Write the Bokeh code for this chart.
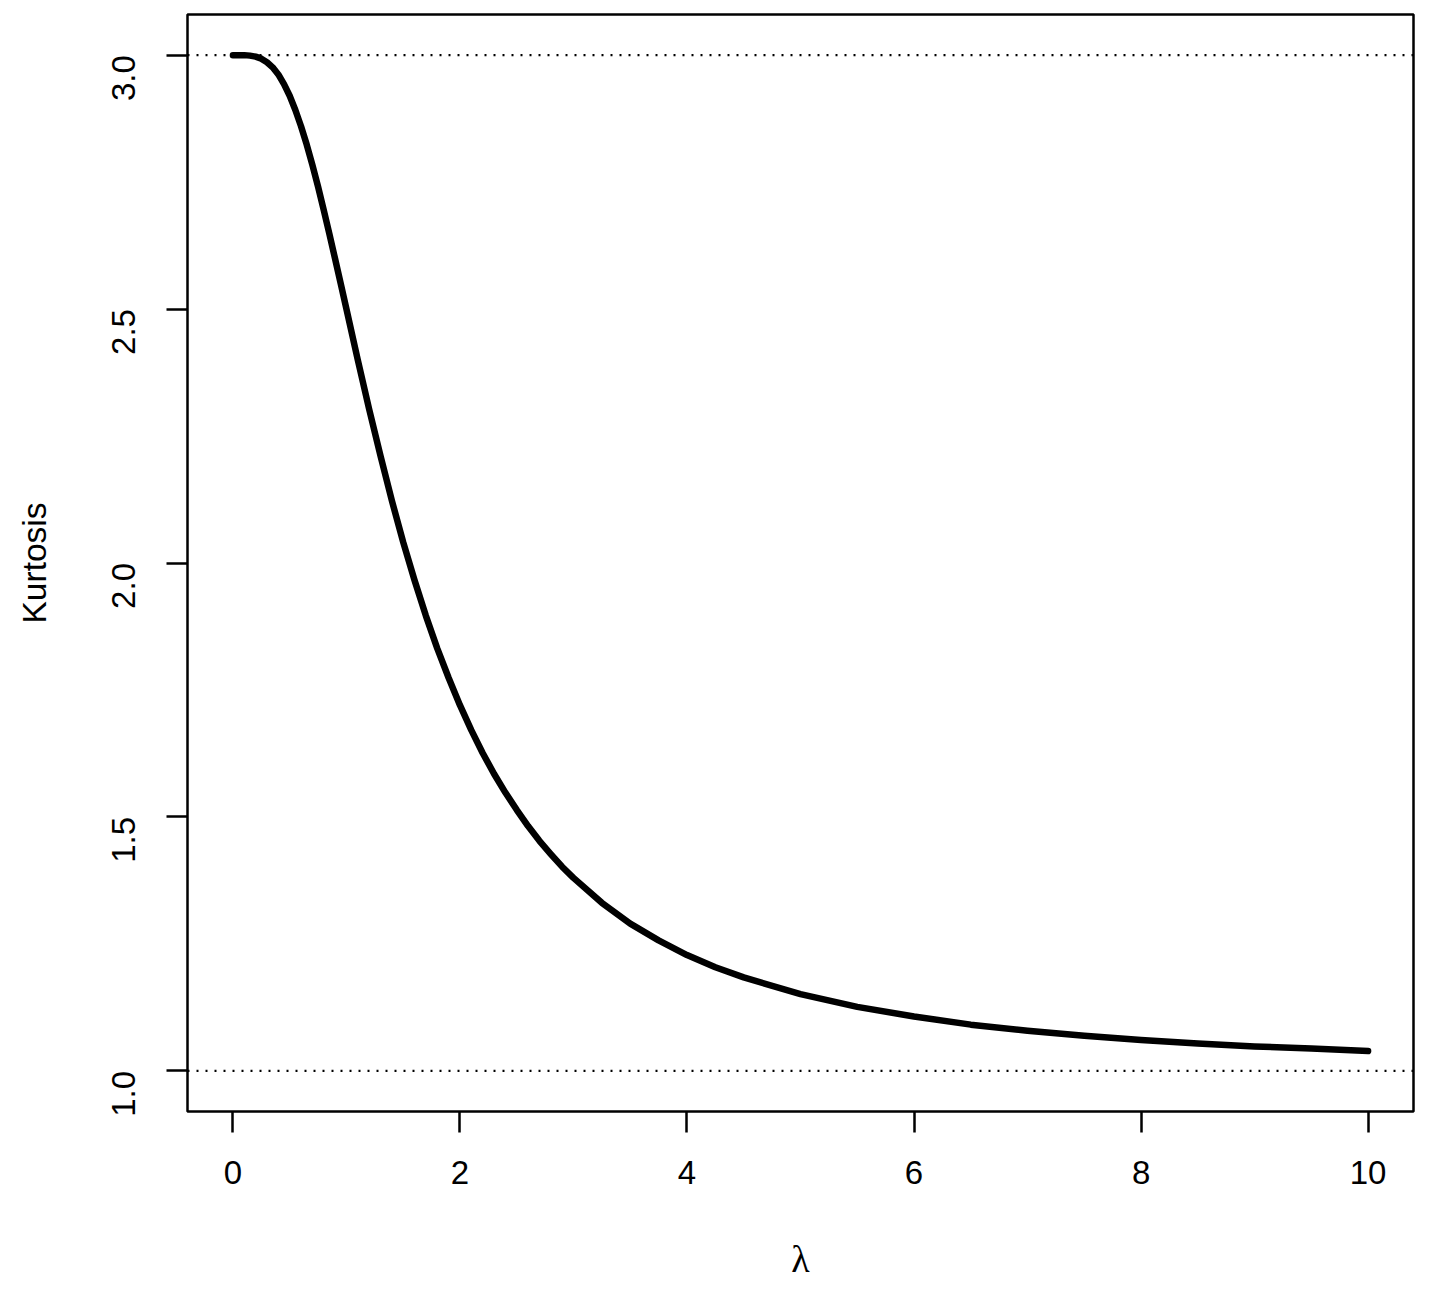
from bokeh.plotting import figure
from bokeh.models import Span, FixedTicker, PrintfTickFormatter, Range1d
from bokeh.embed import file_html
from bokeh.resources import INLINE
import math

# Data
lam = [0.0, 0.1, 0.15, 0.2, 0.25, 0.3, 0.35, 0.4, 0.45, 0.5, 0.55, 0.6, 0.65, 0.7,
       0.75, 0.8, 0.85, 0.9, 0.95, 1.0, 1.1, 1.2, 1.3, 1.4, 1.5, 1.6, 1.7, 1.8,
       1.9, 2.0, 2.1, 2.2, 2.3, 2.4, 2.5, 2.6, 2.7, 2.8, 2.9, 3.0, 3.25, 3.5,
       3.75, 4.0, 4.25, 4.5, 5.0, 5.5, 6.0, 6.5, 7.0, 7.5, 8.0, 8.5, 9.0, 9.5,
       10.0]
kurt = [3.000, 3.000, 2.999, 2.997, 2.993, 2.986, 2.976, 2.962, 2.943, 2.920,
        2.892, 2.860, 2.824, 2.784, 2.741, 2.695, 2.648, 2.599, 2.550, 2.500,
        2.400, 2.303, 2.211, 2.123, 2.041, 1.966, 1.896, 1.832, 1.774, 1.720,
        1.671, 1.626, 1.585, 1.548, 1.514, 1.482, 1.453, 1.427, 1.402, 1.380,
        1.331, 1.290, 1.257, 1.228, 1.204, 1.184, 1.151, 1.126, 1.107, 1.091,
        1.079, 1.069, 1.061, 1.054, 1.048, 1.044, 1.039]
ref_levels = [1.0, 3.0]
x_ticks = [0, 2, 4, 6, 8, 10]
y_ticks = [1.0, 1.5, 2.0, 2.5, 3.0]

p = figure(width=1429, height=1283, output_backend="svg", toolbar_location=None,
           x_range=Range1d(-0.4, 10.4), y_range=Range1d(0.92, 3.08),
           min_border_left=187, min_border_right=16, min_border_top=14,
           min_border_bottom=172)
p.grid.visible = False
p.background_fill_color = "white"
p.border_fill_color = "white"
p.outline_line_color = "black"
p.outline_line_width = 2.5

for lv in ref_levels:
    p.add_layout(Span(location=lv, dimension="width", line_color="black",
                      line_width=2.2, line_dash="2 7"))

p.line(lam, kurt, line_color="black", line_width=6.5, line_cap="round", line_join="round")

for ax in (p.xaxis[0], p.yaxis[0]):
    ax.axis_line_color = None
    ax.major_tick_line_color = "black"
    ax.major_tick_line_width = 2.5
    ax.major_tick_out = 21
    ax.major_tick_in = 0
    ax.minor_tick_line_color = None
    ax.major_label_text_font = "Liberation Sans"
    ax.major_label_text_font_size = "33px"
    ax.major_label_text_color = "black"
    ax.axis_label_text_font_style = "normal"
    ax.axis_label_text_color = "black"

p.xaxis[0].ticker = FixedTicker(ticks=x_ticks)
p.yaxis[0].ticker = FixedTicker(ticks=y_ticks)
p.yaxis[0].formatter = PrintfTickFormatter(format="%.1f")
p.xaxis[0].major_label_standoff = 28
p.yaxis[0].major_label_standoff = 43
p.yaxis[0].major_label_orientation = math.pi / 2

p.xaxis[0].axis_label = "λ"
p.xaxis[0].axis_label_text_font = "Liberation Serif"
p.xaxis[0].axis_label_text_font_size = "38px"
p.xaxis[0].axis_label_standoff = 51
p.yaxis[0].axis_label = "Kurtosis"
p.yaxis[0].axis_label_text_font = "Liberation Sans"
p.yaxis[0].axis_label_text_font_size = "33.5px"
p.yaxis[0].axis_label_standoff = 45

open("out.html", "w").write(file_html(p, INLINE))
